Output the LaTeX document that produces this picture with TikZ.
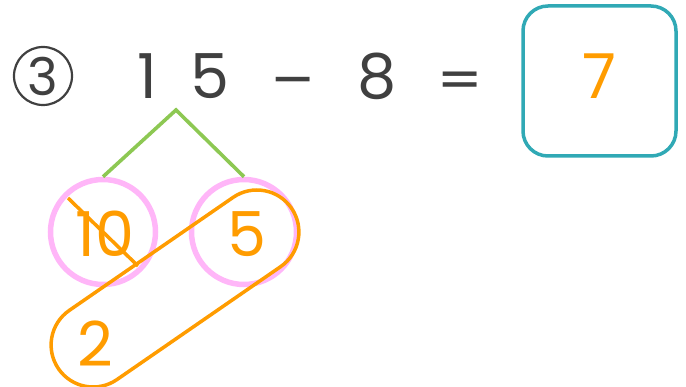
\documentclass[tikz,border=0pt]{standalone}
\usepackage{fontspec}
\setmainfont{Poppins}
\newfontfamily\symfont{DejaVu Sans}
\usepackage{tikz}
\usetikzlibrary{positioning,calc}
\definecolor{inkgray}{HTML}{404040}
\definecolor{ansorange}{HTML}{FF9C00}
\definecolor{boxteal}{HTML}{30A9B5}
\definecolor{treegreen}{HTML}{8DC853}
\definecolor{splitpink}{HTML}{FFB6F8}

\begin{document}
\begin{tikzpicture}[x=1pt,y=-1pt,
    digit/.style={font=\fontsize{62}{70}\selectfont,inner sep=0pt},
    sym/.style={font=\symfont\fontsize{54}{60}\selectfont,inner sep=0pt,text=inkgray,anchor=base},
    part/.style={circle,draw=splitpink,line width=5.5pt,minimum size=105pt,inner sep=0pt},
    orangetxt/.style={digit,text=ansorange}]
        \useasboundingbox(0,0)rectangle(686,387);
        % problem line
        \node[circle,draw=inkgray,line width=2.2pt,minimum size=58pt,inner sep=0pt,
          font=\fontsize{52}{56}\selectfont,text=inkgray](num)at(43,76){3};
        \node[digit,text=inkgray](one)at(147,76){1};
        \node[digit,text=inkgray](five)at(210,76){5};
        \node[sym](minus)at(293,97){−};
        \node[digit,text=inkgray](eight)at(377,76){8};
        \node[sym](eq)at(460,97){=};
        \node[draw=boxteal,line width=3.5pt,rounded corners=25pt,
          minimum width=153pt,minimum height=150pt](ans)at(599.5,81){};
        \node[orangetxt](seven)at(ans.center|-five){7};
        % split 15 into 10 and 5
        \coordinate(apex)at(176,110);
        \node[part](ten)at(103,232){};
        \node[part](fiveb)at(244,232){};
        \draw[treegreen,line width=3.6pt](ten.north)--(apex)--(fiveb.north);
        \node[orangetxt]at(105,234){10};
        \node[orangetxt]at(247,234){5};
        \draw[ansorange,line width=3.5pt](68,198)--(138,266);
        \node[orangetxt](two)at(95,344){2};
        \node[draw=ansorange,line width=3.5pt,rounded corners=42pt,rotate=34.6,
          minimum width=283pt,minimum height=84pt](pair)at(175,288.5){};
      \end{tikzpicture}
\end{document}
